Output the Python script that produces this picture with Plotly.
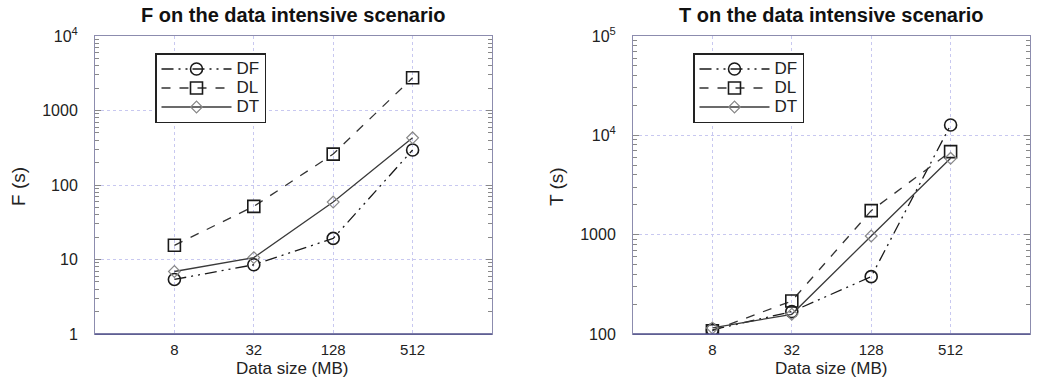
import plotly.graph_objects as go
import math

sizes = [8, 32, 128, 512]
size_labels = ["8", "32", "128", "512"]

# F on the data intensive scenario (s)
F_DF = [5.4, 8.5, 19.2, 295]
F_DL = [15.5, 51.6, 260, 2750]
F_DT = [6.9, 10.6, 59, 430]

# T on the data intensive scenario (s)
T_DF = [110, 168, 378, 12700]
T_DL = [108, 215, 1745, 6850]
T_DT = [115, 158, 970, 5870]

F_ticks = [1, 10, 100, 1000, 10000]
F_ticktext = ["1", "10", "100", "1000", "10<sup>4</sup>"]
T_ticks = [100, 1000, 10000, 100000]
T_ticktext = ["100", "1000", "10<sup>4</sup>", "10<sup>5</sup>"]

series_names = ["DF", "DL", "DT"]

FONT = "Liberation Sans, Arial, sans-serif"
DF_DASH = "12px,5px,2px,5px,2px,5px"

styles = {
    "DF": dict(line=dict(color="#1a1a1a", width=1.3, dash=DF_DASH),
               marker=dict(symbol="circle-open", size=12, color="#1a1a1a", line=dict(width=1.6))),
    "DL": dict(line=dict(color="#333333", width=1.3, dash="dash"),
               marker=dict(symbol="square-open", size=12, color="#1a1a1a", line=dict(width=1.6))),
    "DT": dict(line=dict(color="#3a3a3a", width=1.3, dash="solid"),
               marker=dict(symbol="diamond-open", size=9, color="#888888", line=dict(width=1.2))),
}

fig = go.Figure()

def add_panel(vals, xaxis, yaxis, legend):
    for name, v in zip(series_names, vals):
        st = styles[name]
        fig.add_trace(go.Scatter(x=sizes, y=v,
                                 name=f'<span style="font-size:17px">{name}</span>',
                                 mode="lines+markers",
                                 line=st["line"], marker=st["marker"],
                                 xaxis=xaxis, yaxis=yaxis, legend=legend))

add_panel([F_DF, F_DL, F_DT], "x", "y", "legend")
add_panel([T_DF, T_DL, T_DT], "x2", "y2", "legend2")

W, H = 1041, 378
x1 = [95 / W, 492 / W]
x2 = [633 / W, 1030 / W]
ydom = [(H - 334) / H, (H - 36) / H]

def minor_vals(lo, hi):
    out = []
    e = lo
    while e < hi:
        for m in range(2, 10):
            out.append(m * 10 ** e)
        e += 1
    return out

GRID = "#c8c8f0"
FRAME = "#8c8cae"

xcommon = dict(type="log", range=[math.log10(2), math.log10(2048)],
               tickmode="array", tickvals=sizes, ticktext=size_labels,
               showgrid=True, gridcolor=GRID, griddash="dot", gridwidth=1,
               showline=True, linecolor=FRAME, linewidth=1, mirror=True,
               ticks="", zeroline=False, automargin=False,
               tickfont=dict(family=FONT, size=15, color="#222"),
               ticklabelstandoff=2)

def ycommon(rng, tv, tt):
    lo, hi = rng
    return dict(domain=ydom, type="log", range=[lo, hi],
                tickmode="array", tickvals=tv, ticktext=tt,
                minor=dict(tickmode="array", tickvals=minor_vals(lo, hi), ticks="inside",
                           ticklen=4, tickcolor="#888", showgrid=False),
                ticks="inside", ticklen=6, tickcolor="#888",
                showgrid=True, gridcolor=GRID, griddash="dot", gridwidth=1,
                showline=True, linecolor=FRAME, linewidth=1, mirror="allticks",
                zeroline=False, automargin=False, ticklabelstandoff=13,
                tickfont=dict(family=FONT, size=16, color="#222"))

legend_common = dict(xanchor="left", yanchor="top",
                     bordercolor="#222", borderwidth=1.5, bgcolor="white",
                     font=dict(family=FONT, size=12, color="#222"), itemwidth=70,
                     tracegroupgap=0)

def ann(text, x, y, size, angle=0, color="#222"):
    return dict(text=text, x=x, y=y, xref="paper", yref="paper", showarrow=False,
                xanchor="center", yanchor="middle", textangle=angle,
                font=dict(family=FONT, size=size, color=color))

fig.update_layout(
    width=W, height=H, margin=dict(l=0, r=0, t=0, b=0),
    paper_bgcolor="white", plot_bgcolor="white",
    xaxis=dict(domain=x1, anchor="y", **xcommon),
    xaxis2=dict(domain=x2, anchor="y2", **xcommon),
    yaxis=dict(anchor="x", **ycommon((0, 4), F_ticks, F_ticktext)),
    yaxis2=dict(anchor="x2", **ycommon((2, 5), T_ticks, T_ticktext)),
    legend=dict(x=155 / W, y=1 - 53 / H, **legend_common),
    legend2=dict(x=693 / W, y=1 - 53 / H, **legend_common),
    showlegend=True,
    annotations=[
        ann("<b>F on the data intensive scenario</b>", (x1[0] + x1[1]) / 2, 1 - 15 / H, 20, color="#111"),
        ann("<b>T on the data intensive scenario</b>", (x2[0] + x2[1]) / 2, 1 - 15 / H, 20, color="#111"),
        ann("Data size (MB)", 292 / W, 1 - 368 / H, 17),
        ann("Data size (MB)", 831 / W, 1 - 368 / H, 17),
        ann("F (s)", 19 / W, 1 - 187 / H, 19, angle=-90),
        ann("T (s)", 557 / W, 1 - 187 / H, 19, angle=-90),
    ],
    shapes=[
        dict(type="line", xref="x domain", yref="y domain", x0=0, x1=1, y0=0, y1=0,
             line=dict(color="#50508a", width=1.5)),
        dict(type="line", xref="x2 domain", yref="y2 domain", x0=0, x1=1, y0=0, y1=0,
             line=dict(color="#50508a", width=1.5)),
    ],
)

fig.write_html("out.html")
